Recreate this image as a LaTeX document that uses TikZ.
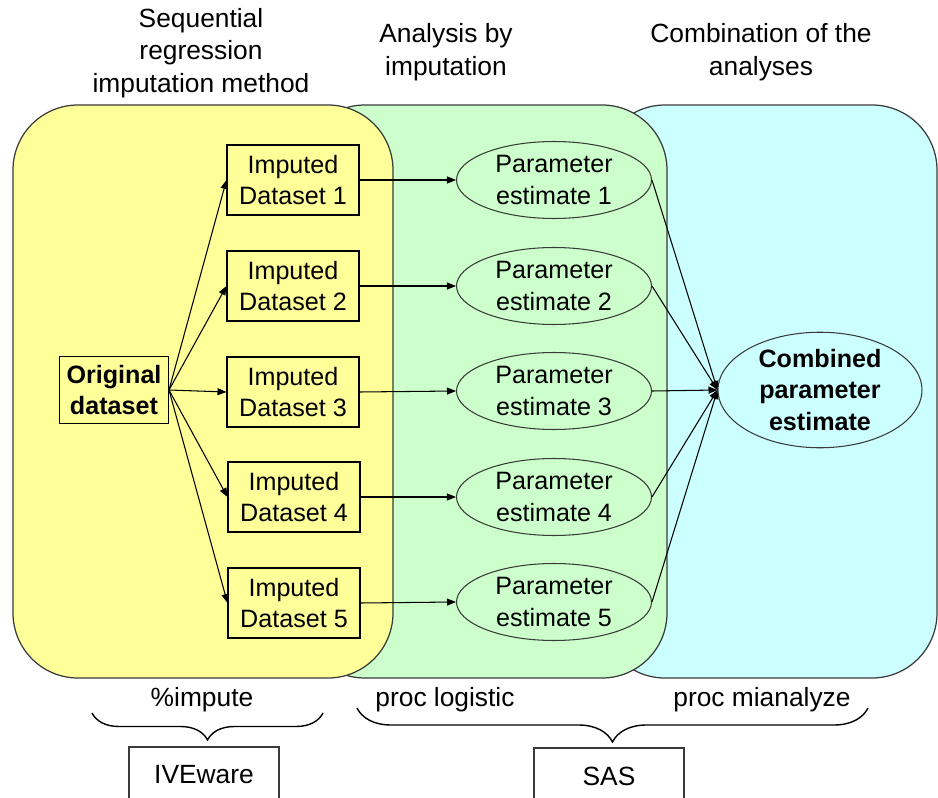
\documentclass[tikz,border=0pt]{standalone}
\usepackage{fontspec}
\setmainfont{Liberation Sans}
\usetikzlibrary{arrows.meta,positioning,shapes.geometric,decorations.pathreplacing}
\usepackage{xcolor}
\definecolor{panelyellow}{HTML}{FFFF99}
\definecolor{panelgreen}{HTML}{CCFFCC}
\definecolor{panelcyan}{HTML}{CCFFFF}
\definecolor{dark}{HTML}{3A3A3A}
\newcommand{\diagfont}{\fontsize{14.3}{18}\selectfont}
\newcommand{\labelfont}{\fontsize{15}{18.5}\selectfont}
\tikzset{
  panel/.style={draw=dark, line width=0.7pt, rounded corners=1.3cm},
  databox/.style={draw=black, line width=0.6pt, align=center, minimum width=2.64cm, minimum height=1.4cm, inner sep=2pt},
  origbox/.style={databox, font=\diagfont\bfseries, minimum width=0, minimum height=1.34cm, inner xsep=4pt},
  estimate/.style={ellipse, draw=dark, line width=0.6pt, align=center, minimum width=3.9cm, minimum height=1.54cm, inner sep=1pt},
  combined/.style={estimate, font=\diagfont\bfseries, minimum width=4.08cm, minimum height=2.3cm, inner sep=0pt},
  toolbox/.style={draw=dark, line width=0.6pt, minimum width=3cm, minimum height=1.12cm, font=\labelfont},
  heading/.style={align=center, font=\labelfont},
  arrow/.style={-{Triangle[length=1.8mm,width=1.4mm]}, line width=0.6pt, draw=black},
  curly/.style={decorate, decoration={brace, mirror, amplitude=#1}, line width=0.8pt}
}

\begin{document}
\begin{tikzpicture}[x=0.02cm, y=-0.02cm, font=\diagfont]
  \useasboundingbox (0,0) rectangle (938,798);

  % three background panels, back to front
  \draw[panel, fill=panelcyan] (600,105) rectangle (937,678);
  \draw[panel, fill=panelgreen] (300,105) rectangle (667,678);
  \draw[panel, fill=panelyellow] (13,105) rectangle (393,678);

  % column headings
  \node[heading] (headimp) at (201,53) {Sequential\\regression\\imputation method};
  \node[heading] (headana) at (446,52) {Analysis by\\imputation};
  \node[heading] (headcomb) at (761,52) {Combination of the\\analyses};

  % original data
  \node[origbox, anchor=east] (orig) at (169,390) {Original\\dataset};

  % imputed datasets
  \node[databox] (imp1) at (293,180) {Imputed\\Dataset 1};
  \node[databox] (imp2) at (293,286) {Imputed\\Dataset 2};
  \node[databox] (imp3) at (293,392) {Imputed\\Dataset 3};
  \node[databox] (imp4) at (294,497) {Imputed\\Dataset 4};
  \node[databox] (imp5) at (294,603) {Imputed\\Dataset 5};

  % parameter estimates
  \node[estimate] (est1) at (554,180) {Parameter\\estimate 1};
  \node[estimate] (est2) at (554,286) {Parameter\\estimate 2};
  \node[estimate] (est3) at (554,391) {Parameter\\estimate 3};
  \node[estimate] (est4) at (554,497) {Parameter\\estimate 4};
  \node[estimate] (est5) at (554,602) {Parameter\\estimate 5};

  \node[combined] (comb) at (820,390) {Combined\\parameter\\estimate};

  % fan out to the imputations
  \draw[arrow] (orig.east) -- (imp1.west);
  \draw[arrow] (orig.east) -- (imp2.west);
  \draw[arrow] (orig.east) -- (imp3.west);
  \draw[arrow] (orig.east) -- (imp4.west);
  \draw[arrow] (orig.east) -- (imp5.west);

  % one analysis per dataset
  \draw[arrow] (imp1.east) -- (est1.west);
  \draw[arrow] (imp2.east) -- (est2.west);
  \draw[arrow] (imp3.east) -- (est3.west);
  \draw[arrow] (imp4.east) -- (est4.west);
  \draw[arrow] (imp5.east) -- (est5.west);

  % pooling
  \draw[arrow] (est1.east) -- (comb.west);
  \draw[arrow] (est2.east) -- (comb.west);
  \draw[arrow] (est3.east) -- (comb.west);
  \draw[arrow] (est4.east) -- (comb.west);
  \draw[arrow] (est5.east) -- (comb.west);

  % software labels and braces
  \node[font=\labelfont] (impute) at (202,700) {\%impute};
  \node[font=\labelfont] (logistic) at (445,700) {proc logistic};
  \node[font=\labelfont] (mianalyze) at (762,700) {proc mianalyze};

  \coordinate (ivleft) at (92,713);
  \coordinate (ivright) at (323,713);
  \coordinate (sasleft) at (357,708);
  \coordinate (sasright) at (868,708);
  \draw[curly=0.54cm] (ivleft) -- (ivright);
  \draw[curly=0.68cm] (sasleft) -- (sasright);

  \node[toolbox] (iveware) at (204,775) {IVEware};
  \node[toolbox] (sas) at (609,776) {SAS};
\end{tikzpicture}
\end{document}
